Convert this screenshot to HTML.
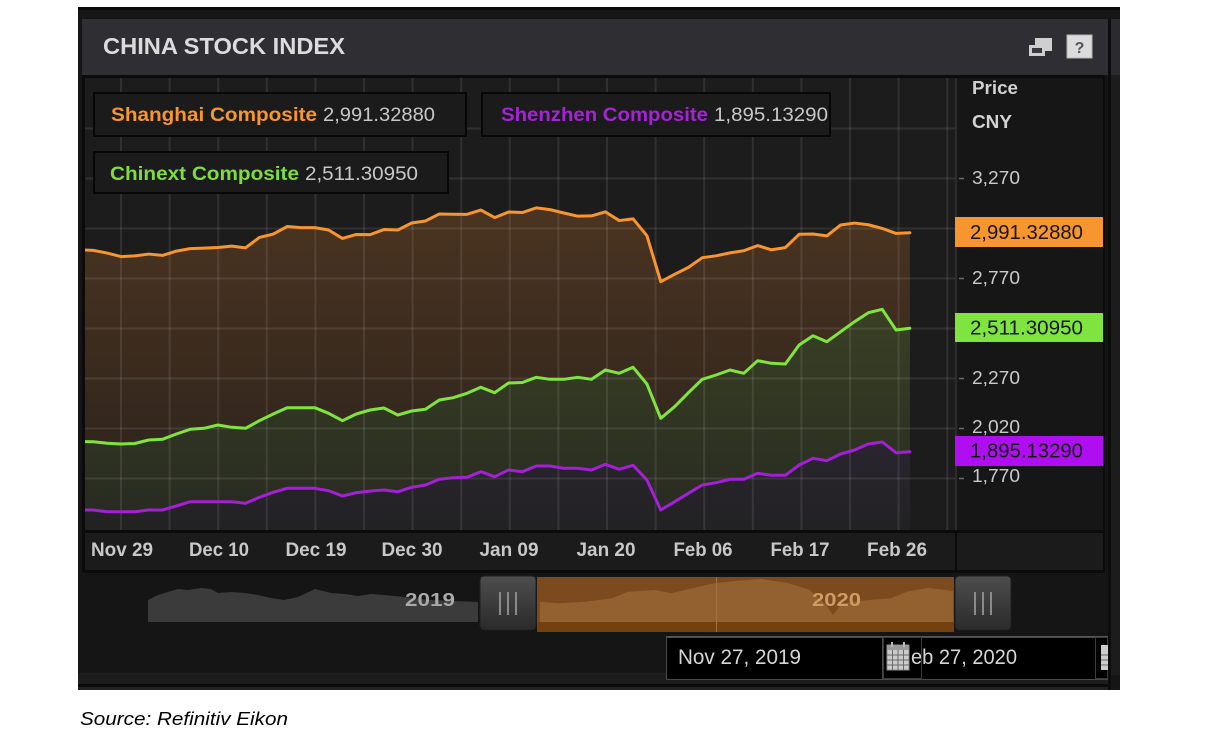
<!DOCTYPE html>
<html>
<head>
<meta charset="utf-8">
<style>
html,body{margin:0;padding:0;background:#ffffff;}
body{width:1209px;height:743px;overflow:hidden;}
svg{display:block;}
text{font-family:"Liberation Sans",Arial,sans-serif;}
</style>
</head>
<body>
<svg width="1209" height="743" viewBox="0 0 1209 743" xmlns="http://www.w3.org/2000/svg">
<defs>
  <linearGradient id="gO" gradientUnits="userSpaceOnUse" x1="0" y1="205" x2="0" y2="530">
    <stop offset="0" stop-color="#4b3421"/>
    <stop offset="0.7" stop-color="#33271d"/>
    <stop offset="1" stop-color="#2a231d"/>
  </linearGradient>
  <linearGradient id="gG" gradientUnits="userSpaceOnUse" x1="0" y1="305" x2="0" y2="530">
    <stop offset="0" stop-color="#3a4125"/>
    <stop offset="1" stop-color="#272920"/>
  </linearGradient>
  <linearGradient id="gP" gradientUnits="userSpaceOnUse" x1="0" y1="440" x2="0" y2="530">
    <stop offset="0" stop-color="#2a2430"/>
    <stop offset="1" stop-color="#222222"/>
  </linearGradient>
  <linearGradient id="gH" x1="0" y1="0" x2="0" y2="1">
    <stop offset="0" stop-color="#4d4d4d"/>
    <stop offset="1" stop-color="#2b2b2b"/>
  </linearGradient>
  <clipPath id="plot"><rect x="85" y="78" width="870" height="452"/></clipPath>
</defs>

<!-- outer panel -->
<rect x="78" y="8" width="1042" height="682" fill="#151515"/>
<rect x="78" y="7" width="1042" height="3" fill="#0a0a0a"/>
<!-- header -->
<rect x="82" y="19" width="1026" height="56" fill="#2e2e33"/>
<rect x="1111" y="19" width="9" height="56" fill="#2b2b2f"/>
<rect x="1108" y="19" width="3" height="671" fill="#0c0c0c"/>
<rect x="1111" y="75" width="9" height="600" fill="#1c1c1c"/>
<text x="103" y="54" font-size="23" font-weight="bold" fill="#dcdcdc" textLength="242" lengthAdjust="spacingAndGlyphs">CHINA STOCK INDEX</text>
<!-- header icons -->
<rect x="1035" y="38" width="17" height="13" fill="#cfcfcf"/>
<rect x="1029" y="45" width="16" height="11" fill="#cfcfcf"/>
<rect x="1032" y="48" width="10" height="5" fill="#3a3a3e"/>
<rect x="1067" y="35" width="25" height="23" fill="#dcdcdc" stroke="#b5b5b5" stroke-width="1"/>
<text x="1079.5" y="53" font-size="16" font-weight="bold" fill="#555" text-anchor="middle">?</text>

<!-- chart container -->
<rect x="82" y="75" width="1023" height="498" fill="#0b0b0b"/>
<rect x="85" y="78" width="870" height="452" fill="#1c1c1c"/>

<g clip-path="url(#plot)">
  <!-- orange area -->
  <path fill="url(#gO)" d="M79.48,249.77 L93.32,250.36 107.16,253.06 121,256.6 134.84,255.84 148.68,254.06 162.52,255.38 176.36,251.11 190.2,248.6 204.04,248.1 217.88,247.54 231.72,246.12 245.56,247.86 259.4,237.46 273.24,234.12 287.08,226.52 300.92,227.59 314.76,227.59 328.6,230.01 342.44,238.45 356.28,234.46 370.12,234.62 383.96,229.53 397.8,229.99 411.64,223 425.48,220.98 439.32,213.96 453.16,214.24 467,214.32 480.84,210.04 494.68,217.62 508.52,212.02 522.36,212.54 536.2,207.89 550.04,209.64 563.88,212.99 577.72,216.18 591.56,215.9 605.4,211.84 619.24,220.57 633.08,218.85 646.92,235.69 660.76,281.68 674.6,274.34 688.44,267.38 702.28,257.7 716.12,255.81 729.96,252.9 743.8,250.67 757.64,245.62 771.48,249.79 785.32,247.6 799.16,234.28 813,234.01 826.84,235.92 840.68,224.97 854.52,223.07 868.36,224.75 882.2,228.39 896.04,233.41 909.88,232.73 L909.88,530 L79.48,530 Z"/>
  <!-- green area -->
  <path fill="url(#gG)" d="M79.48,441.5 L93.32,441.7 107.16,443.3 121,444 134.84,443.5 148.68,440 162.52,439.3 176.36,434 190.2,429.3 204.04,428.3 217.88,425 231.72,427.3 245.56,428.3 259.4,420.7 273.24,414 287.08,407.7 300.92,407.7 314.76,407.7 328.6,413.3 342.44,420.7 356.28,414 370.12,410 383.96,408 397.8,415 411.64,411 425.48,409.3 439.32,400 453.16,397.7 467,393.3 480.84,387.3 494.68,392.7 508.52,383 522.36,382.5 536.2,377.3 550.04,379.3 563.88,379.3 577.72,377.3 591.56,379.3 605.4,370 619.24,373.3 633.08,367.3 646.92,384 660.76,418.3 674.6,406.7 688.44,392.7 702.28,379.3 716.12,375 729.96,370 743.8,373.3 757.64,360.7 771.48,363.3 785.32,364 799.16,345 813,335.7 826.84,341.7 840.68,331.7 854.52,321.7 868.36,312.7 882.2,309.3 896.04,330 909.88,328.3 L909.88,530 L79.48,530 Z"/>
  <!-- purple area -->
  <path fill="url(#gP)" d="M79.48,510 L93.32,510 107.16,511.7 121,511.7 134.84,511.7 148.68,510 162.52,510 176.36,506 190.2,501.7 204.04,501.7 217.88,501.7 231.72,501.7 245.56,503.3 259.4,497.3 273.24,492.3 287.08,488.3 300.92,488.3 314.76,488.3 328.6,490.7 342.44,496 356.28,492.7 370.12,491 383.96,490 397.8,491.7 411.64,487.3 425.48,485 439.32,479.3 453.16,477.7 467,477.3 480.84,471.7 494.68,476.7 508.52,470 522.36,471.7 536.2,466 550.04,466 563.88,468.3 577.72,468.3 591.56,470 605.4,464.3 619.24,469.3 633.08,465.3 646.92,480 660.76,510 674.6,501.7 688.44,493.3 702.28,485 716.12,482.7 729.96,479.3 743.8,479.3 757.64,473.3 771.48,475.3 785.32,475.3 799.16,465 813,458.3 826.84,460.7 840.68,454 854.52,450 868.36,444 882.2,442 896.04,452.7 909.88,451.7 L909.88,530 L79.48,530 Z"/>

  <!-- grid -->
  <g stroke="rgba(255,255,255,0.09)" stroke-width="2" fill="none">
    <path d="M85,128.5H955M85,178.5H955M85,228.5H955M85,278.5H955M85,328.5H955M85,378.5H955M85,428.5H955M85,478.5H955"/>
    <path d="M121,78V530M169.6,78V530M218.2,78V530M266.8,78V530M315.4,78V530M364,78V530M412.6,78V530M461.2,78V530M509.8,78V530M558.4,78V530M607,78V530M655.6,78V530M704.2,78V530M752.8,78V530M801.4,78V530M850,78V530M898.6,78V530M947.2,78V530"/>
  </g>

  <!-- lines -->
  <g fill="none" stroke-width="3" stroke-linejoin="round" stroke-linecap="round">
    <polyline stroke="#f7952f" points="79.48,249.77 93.32,250.36 107.16,253.06 121,256.6 134.84,255.84 148.68,254.06 162.52,255.38 176.36,251.11 190.2,248.6 204.04,248.1 217.88,247.54 231.72,246.12 245.56,247.86 259.4,237.46 273.24,234.12 287.08,226.52 300.92,227.59 314.76,227.59 328.6,230.01 342.44,238.45 356.28,234.46 370.12,234.62 383.96,229.53 397.8,229.99 411.64,223 425.48,220.98 439.32,213.96 453.16,214.24 467,214.32 480.84,210.04 494.68,217.62 508.52,212.02 522.36,212.54 536.2,207.89 550.04,209.64 563.88,212.99 577.72,216.18 591.56,215.9 605.4,211.84 619.24,220.57 633.08,218.85 646.92,235.69 660.76,281.68 674.6,274.34 688.44,267.38 702.28,257.7 716.12,255.81 729.96,252.9 743.8,250.67 757.64,245.62 771.48,249.79 785.32,247.6 799.16,234.28 813,234.01 826.84,235.92 840.68,224.97 854.52,223.07 868.36,224.75 882.2,228.39 896.04,233.41 909.88,232.73"/>
    <polyline stroke="#80e43f" points="79.48,441.5 93.32,441.7 107.16,443.3 121,444 134.84,443.5 148.68,440 162.52,439.3 176.36,434 190.2,429.3 204.04,428.3 217.88,425 231.72,427.3 245.56,428.3 259.4,420.7 273.24,414 287.08,407.7 300.92,407.7 314.76,407.7 328.6,413.3 342.44,420.7 356.28,414 370.12,410 383.96,408 397.8,415 411.64,411 425.48,409.3 439.32,400 453.16,397.7 467,393.3 480.84,387.3 494.68,392.7 508.52,383 522.36,382.5 536.2,377.3 550.04,379.3 563.88,379.3 577.72,377.3 591.56,379.3 605.4,370 619.24,373.3 633.08,367.3 646.92,384 660.76,418.3 674.6,406.7 688.44,392.7 702.28,379.3 716.12,375 729.96,370 743.8,373.3 757.64,360.7 771.48,363.3 785.32,364 799.16,345 813,335.7 826.84,341.7 840.68,331.7 854.52,321.7 868.36,312.7 882.2,309.3 896.04,330 909.88,328.3"/>
    <polyline stroke="#a41fd6" points="79.48,510 93.32,510 107.16,511.7 121,511.7 134.84,511.7 148.68,510 162.52,510 176.36,506 190.2,501.7 204.04,501.7 217.88,501.7 231.72,501.7 245.56,503.3 259.4,497.3 273.24,492.3 287.08,488.3 300.92,488.3 314.76,488.3 328.6,490.7 342.44,496 356.28,492.7 370.12,491 383.96,490 397.8,491.7 411.64,487.3 425.48,485 439.32,479.3 453.16,477.7 467,477.3 480.84,471.7 494.68,476.7 508.52,470 522.36,471.7 536.2,466 550.04,466 563.88,468.3 577.72,468.3 591.56,470 605.4,464.3 619.24,469.3 633.08,465.3 646.92,480 660.76,510 674.6,501.7 688.44,493.3 702.28,485 716.12,482.7 729.96,479.3 743.8,479.3 757.64,473.3 771.48,475.3 785.32,475.3 799.16,465 813,458.3 826.84,460.7 840.68,454 854.52,450 868.36,444 882.2,442 896.04,452.7 909.88,451.7"/>
  </g>
</g>

<!-- legend boxes -->
<rect x="94" y="93" width="372" height="43" fill="#1b1b1b" stroke="#070707" stroke-width="2"/>
<rect x="482" y="93" width="348" height="43" fill="#1b1b1b" stroke="#070707" stroke-width="2"/>
<rect x="94" y="152" width="354" height="41" fill="#1b1b1b" stroke="#070707" stroke-width="2"/>
<text x="111" y="121" font-size="19" font-weight="bold" fill="#f7952f" textLength="206" lengthAdjust="spacingAndGlyphs">Shanghai Composite</text>
<text x="323" y="121" font-size="19" fill="#c8c8c8" textLength="112" lengthAdjust="spacingAndGlyphs">2,991.32880</text>
<text x="501" y="121" font-size="19" font-weight="bold" fill="#a424d4" textLength="207" lengthAdjust="spacingAndGlyphs">Shenzhen Composite</text>
<text x="714" y="121" font-size="19" fill="#c8c8c8" textLength="114" lengthAdjust="spacingAndGlyphs">1,895.13290</text>
<text x="110" y="180" font-size="19" font-weight="bold" fill="#7fdc3f" textLength="189" lengthAdjust="spacingAndGlyphs">Chinext Composite</text>
<text x="305" y="180" font-size="19" fill="#c8c8c8" textLength="113" lengthAdjust="spacingAndGlyphs">2,511.30950</text>

<!-- right axis -->
<rect x="957" y="78" width="146" height="452" fill="#161616"/>
<rect x="955" y="78" width="2" height="452" fill="#2c2c2c"/>
<text x="972" y="94" font-size="18" font-weight="bold" fill="#d2d2d2" textLength="46" lengthAdjust="spacingAndGlyphs">Price</text>
<text x="972" y="128" font-size="18" font-weight="bold" fill="#d2d2d2" textLength="40" lengthAdjust="spacingAndGlyphs">CNY</text>
<g stroke="#6a6a6a" stroke-width="1.5">
  <path d="M959,178.5H964M959,278.5H964M959,378.5H964M959,428.5H964M959,478.5H964"/>
</g>
<g font-size="18" fill="#c9c9c9">
  <text x="972" y="184" textLength="48" lengthAdjust="spacingAndGlyphs">3,270</text>
  <text x="972" y="284" textLength="48" lengthAdjust="spacingAndGlyphs">2,770</text>
  <text x="972" y="384" textLength="48" lengthAdjust="spacingAndGlyphs">2,270</text>
  <text x="972" y="433" textLength="48" lengthAdjust="spacingAndGlyphs">2,020</text>
  <text x="972" y="482" textLength="48" lengthAdjust="spacingAndGlyphs">1,770</text>
</g>
<rect x="955" y="217" width="148" height="30" fill="#f7962f"/>
<text x="970" y="239" font-size="20" fill="#161616" textLength="113" lengthAdjust="spacingAndGlyphs">2,991.32880</text>
<rect x="955" y="313" width="148" height="29" fill="#7fe43f"/>
<text x="970" y="334.5" font-size="20" fill="#161616" textLength="113" lengthAdjust="spacingAndGlyphs">2,511.30950</text>
<rect x="955" y="436" width="148" height="30" fill="#ae0ef0"/>
<text x="970" y="457.5" font-size="20" fill="#161616" textLength="113" lengthAdjust="spacingAndGlyphs">1,895.13290</text>

<!-- x-axis label strip -->
<rect x="85" y="533" width="870" height="37" fill="#1b1b1b"/>
<rect x="957" y="533" width="146" height="37" fill="#1b1b1b"/>
<g font-size="19" font-weight="bold" fill="#c8c8c8" text-anchor="middle">
  <text x="122" y="556" textLength="62" lengthAdjust="spacingAndGlyphs">Nov 29</text>
  <text x="219" y="556" textLength="60" lengthAdjust="spacingAndGlyphs">Dec 10</text>
  <text x="316" y="556" textLength="61" lengthAdjust="spacingAndGlyphs">Dec 19</text>
  <text x="412" y="556" textLength="61" lengthAdjust="spacingAndGlyphs">Dec 30</text>
  <text x="509" y="556" textLength="59" lengthAdjust="spacingAndGlyphs">Jan 09</text>
  <text x="606" y="556" textLength="59" lengthAdjust="spacingAndGlyphs">Jan 20</text>
  <text x="703" y="556" textLength="59" lengthAdjust="spacingAndGlyphs">Feb 06</text>
  <text x="800" y="556" textLength="59" lengthAdjust="spacingAndGlyphs">Feb 17</text>
  <text x="897" y="556" textLength="60" lengthAdjust="spacingAndGlyphs">Feb 26</text>
</g>

<!-- navigator -->
<rect x="80" y="573" width="1028" height="100" fill="#151515"/>
<polygon fill="#3b3b3b" points="148,622 148,600 158,595 178,589 188,590 201,588 211,589 218,593 231,592 245,593 258,595 271,598 284,600 298,597 315,589 331,593 345,594 358,596 371,594 384,595 405,597 430,600 455,601 478,602 478,622"/>
<text x="405" y="606" font-size="18" font-weight="bold" fill="#a9a9a9" textLength="50" lengthAdjust="spacingAndGlyphs">2019</text>

<rect x="537" y="577" width="417" height="55" fill="#7b4a1e"/>
<polygon fill="#93602f" points="540,622 540,601.7 558.5,603.3 585,601.7 612,598.3 628,591.7 655,590 671,593.3 692,588.3 714,583.3 735,581 762,579 789,583.3 810,590 826,605 833,615 842,603.3 869,600 890.6,598.3 907,591.7 928,587.7 953,591 953,622"/>
<rect x="537" y="622" width="417" height="10" fill="#74400e"/>
<rect x="716" y="577" width="1" height="55" fill="#a0703f"/>
<text x="812" y="606" font-size="18" font-weight="bold" fill="#cf9a64" textLength="49" lengthAdjust="spacingAndGlyphs">2020</text>

<rect x="480" y="576" width="56" height="54" rx="4" fill="url(#gH)" stroke="#1e1e1e" stroke-width="1"/>
<g stroke="#8a8a8a" stroke-width="2"><path d="M500,592V615M508,592V615M516,592V615"/></g>
<rect x="955" y="576" width="56" height="54" rx="4" fill="url(#gH)" stroke="#1e1e1e" stroke-width="1"/>
<g stroke="#8a8a8a" stroke-width="2"><path d="M975,592V615M983,592V615M991,592V615"/></g>

<!-- bottom band -->
<rect x="78" y="673" width="1030" height="11" fill="#1d1d1d"/>
<rect x="78" y="684" width="1030" height="3" fill="#0a0a0a"/>
<rect x="78" y="687" width="1030" height="3" fill="#222222"/>

<!-- date inputs -->
<rect x="666" y="636" width="442" height="2" fill="#555"/>
<rect x="666.5" y="637.5" width="216" height="42" fill="#000" stroke="#4a4a4a" stroke-width="1"/>
<text x="678" y="664" font-size="21" fill="#d6d6d6" textLength="123" lengthAdjust="spacingAndGlyphs">Nov 27, 2019</text>
<rect x="883.5" y="637.5" width="224" height="42" fill="#000" stroke="#4a4a4a" stroke-width="1"/>
<text x="911" y="664" font-size="21" fill="#d6d6d6" textLength="106" lengthAdjust="spacingAndGlyphs">eb 27, 2020</text>
<!-- calendar icon 1 -->
<rect x="883.5" y="637.5" width="38" height="41" fill="none" stroke="#3a3a3a" stroke-width="1"/>
<rect x="887" y="645" width="22" height="25" fill="#cbcbcb" stroke="#8c8c8c" stroke-width="1"/>
<rect x="887" y="645" width="22" height="5" fill="#9a9a9a"/>
<g stroke="#6a6a6a" stroke-width="1"><path d="M887,655H909M887,660H909M887,665H909M892.5,650V670M898,650V670M903.5,650V670"/></g>
<rect x="891" y="642" width="2" height="5" fill="#bbb"/><rect x="903" y="642" width="2" height="5" fill="#bbb"/>
<!-- calendar icon 2 (cut) -->
<rect x="1095.5" y="637.5" width="12" height="41" fill="#000" stroke="#3a3a3a" stroke-width="1"/>
<rect x="1101" y="645" width="7" height="25" fill="#cbcbcb"/>
<g stroke="#6a6a6a" stroke-width="1"><path d="M1101,655H1108M1101,660H1108M1101,665H1108"/></g>

<!-- source -->
<text x="80" y="725" font-size="18" font-style="italic" fill="#000" textLength="208" lengthAdjust="spacingAndGlyphs">Source: Refinitiv Eikon</text>
</svg>
</body>
</html>
